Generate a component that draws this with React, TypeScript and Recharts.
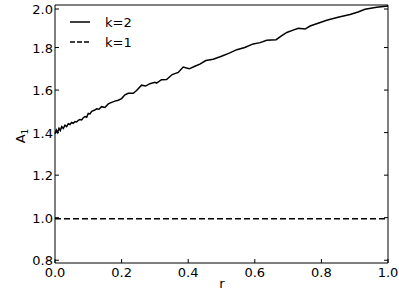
import { LineChart, Line, XAxis, YAxis, Legend } from 'recharts'

const rValues = [
  0.0, 0.004, 0.008, 0.012, 0.016, 0.02, 0.025, 0.03, 0.035, 0.04, 0.045, 0.05, 0.055, 0.06, 0.065,
  0.07, 0.075, 0.08, 0.085, 0.09, 0.095, 0.1, 0.105, 0.11, 0.118, 0.125, 0.132, 0.14, 0.15, 0.16,
  0.17, 0.18, 0.19, 0.2, 0.21, 0.22, 0.235, 0.245, 0.26, 0.272, 0.285, 0.3, 0.305, 0.32, 0.335,
  0.352, 0.37, 0.385, 0.403, 0.42, 0.435, 0.453, 0.475, 0.5, 0.525, 0.546, 0.57, 0.595, 0.616,
  0.636, 0.664, 0.68, 0.696, 0.715, 0.731, 0.751, 0.766, 0.79, 0.816, 0.85, 0.886, 0.91, 0.931,
  0.966, 1.0,
]
const k2Values = [
  1.395, 1.412, 1.4, 1.42, 1.41, 1.428, 1.42, 1.435, 1.428, 1.442, 1.438, 1.448, 1.444, 1.452, 1.45,
  1.458, 1.462, 1.46, 1.47, 1.475, 1.472, 1.49, 1.488, 1.5, 1.505, 1.512, 1.51, 1.522, 1.518, 1.535,
  1.542, 1.548, 1.552, 1.56, 1.578, 1.585, 1.585, 1.598, 1.623, 1.619, 1.63, 1.637, 1.633, 1.649, 1.65,
  1.673, 1.683, 1.708, 1.7, 1.712, 1.722, 1.739, 1.745, 1.759, 1.775, 1.79, 1.8, 1.817, 1.823,
  1.834, 1.837, 1.855, 1.871, 1.882, 1.891, 1.887, 1.901, 1.914, 1.928, 1.942, 1.955, 1.967, 1.98,
  1.989, 1.995,
]
const k1R = [0, 1]
const k1Values = [0.995, 0.995]
const xTicks = [0, 0.2, 0.4, 0.6, 0.8, 1.0]
const yTicks = [0.8, 1.0, 1.2, 1.4, 1.6, 1.8, 2.0]
const legendItems = [
  { name: 'k=2', dash: undefined },
  { name: 'k=1', dash: '5 2' },
]

const k2Data = rValues.map((r, i) => ({ r, a: k2Values[i] }))
const k1Data = k1R.map((r, i) => ({ r, a: k1Values[i] }))

const font = '"DejaVu Sans", sans-serif'

function BottomTick({ x, y, payload }: any) {
  return (
    <g>
      <line x1={x} x2={x} y1={y} y2={y - 4} stroke="#000" />
      <text x={x} y={y + 14} textAnchor="middle" fontFamily={font} fontSize={13} fill="#000">
        {Number(payload.value).toFixed(1)}
      </text>
    </g>
  )
}

function LeftTick({ x, y, payload }: any) {
  return (
    <g>
      <line x1={x} x2={x + 4} y1={y} y2={y} stroke="#000" />
      <text x={x - 2} y={y + 5} textAnchor="end" fontFamily={font} fontSize={13} fill="#000">
        {Number(payload.value).toFixed(1)}
      </text>
    </g>
  )
}

function TopTick({ x, y }: any) {
  return <line x1={x} x2={x} y1={y} y2={y + 4} stroke="#000" />
}

function RightTick({ x, y }: any) {
  return <line x1={x} x2={x - 4} y1={y} y2={y} stroke="#000" />
}

function LegendBox() {
  return (
    <div style={{ fontFamily: font, fontSize: 13, color: '#000' }}>
      {legendItems.map((item) => (
        <div key={item.name} style={{ display: 'flex', alignItems: 'center', height: 20 }}>
          <svg width={20} height={20} style={{ marginRight: 15 }}>
            <line x1={0} x2={20} y1={10} y2={10} stroke="#000" strokeWidth={1.5} strokeDasharray={item.dash} />
          </svg>
          <span>{item.name}</span>
        </div>
      ))}
    </div>
  )
}

export default function App() {
  return (
    <div style={{ position: 'absolute', left: 0, top: 0 }}>
      <LineChart width={399} height={297} margin={{ top: 0, right: 6, bottom: 4, left: 10 }}>
        <XAxis
          xAxisId="b"
          type="number"
          dataKey="r"
          domain={[0, 1]}
          ticks={xTicks}
          height={30}
          stroke="#000"
          tickLine={false}
          tickSize={0}
          tickMargin={0}
          tick={<BottomTick />}
          label={{
            content: () => (
              <text x={222} y={288} textAnchor="middle" fontFamily={font} fontSize={13} fill="#000">
                r
              </text>
            ),
          }}
        />
        <XAxis
          xAxisId="t"
          orientation="top"
          type="number"
          dataKey="r"
          domain={[0, 1]}
          ticks={xTicks}
          height={5}
          stroke="#000"
          tickLine={false}
          tickSize={0}
          tickMargin={0}
          tick={<TopTick />}
        />
        <YAxis
          yAxisId="l"
          type="number"
          domain={[0.787, 2.0]}
          ticks={yTicks}
          allowDataOverflow
          width={45}
          stroke="#000"
          tickLine={false}
          tickSize={0}
          tickMargin={0}
          tick={<LeftTick />}
          label={{
            content: () => (
              <text
                transform="translate(25,136) rotate(-90)"
                textAnchor="middle"
                fontFamily={font}
                fontSize={13}
                fill="#000"
              >
                A
                <tspan dy={3} fontSize={9}>
                  1
                </tspan>
              </text>
            ),
          }}
        />
        <YAxis
          yAxisId="r"
          orientation="right"
          type="number"
          domain={[0.787, 2.0]}
          ticks={yTicks}
          allowDataOverflow
          width={5}
          stroke="#000"
          tickLine={false}
          tickSize={0}
          tickMargin={0}
          tick={<RightTick />}
        />
        <Legend
          layout="vertical"
          align="center"
          verticalAlign="middle"
          wrapperStyle={{ left: 70, top: 12, width: 'auto', height: 'auto' }}
          content={<LegendBox />}
        />
        <Line
          xAxisId="b"
          yAxisId="l"
          data={k2Data}
          dataKey="a"
          name="k=2"
          type="linear"
          stroke="#000"
          strokeWidth={1.5}
          dot={false}
          isAnimationActive={false}
        />
        <Line
          xAxisId="b"
          yAxisId="l"
          data={k1Data}
          dataKey="a"
          name="k=1"
          type="linear"
          stroke="#000"
          strokeWidth={1.5}
          strokeDasharray="6 3"
          dot={false}
          isAnimationActive={false}
        />
      </LineChart>
    </div>
  )
}
